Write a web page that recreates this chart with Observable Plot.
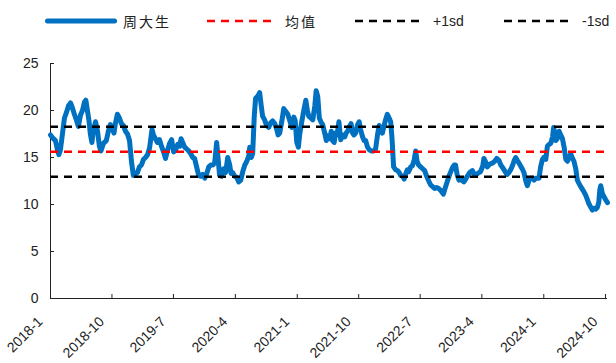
<!DOCTYPE html>
<html>
<head>
<meta charset="utf-8">
<script src="https://cdn.jsdelivr.net/npm/d3@7"></script>
<script src="https://cdn.jsdelivr.net/npm/@observablehq/plot@0.6"></script>
<style>
  body { margin: 0; background: #fff; font-family: "Liberation Sans", Arial, sans-serif; }
  #legend { position: relative; width: 616px; height: 40px; }
  #legend .item { position: absolute; top: 0; height: 42px; display: flex; align-items: center; }
  #legend .lab { font-size: 14px; color: #222; margin-left: 6px; white-space: nowrap; }
  #legend .cjk { font-family: "Noto Sans CJK SC", sans-serif; letter-spacing: 2px; font-size: 14px; }
  #chart svg { display: block; }
</style>
</head>
<body>
<div id="legend"></div>
<div id="chart"></div>
<script>
// ---- data ----
const seriesName = "周大生";
const dates = [
"2018-01-01","2018-01-14","2018-01-23","2018-02-01","2018-02-07","2018-02-14","2018-02-23","2018-03-04","2018-03-13","2018-03-22",
"2018-03-31","2018-04-08","2018-04-17","2018-04-26","2018-05-05","2018-05-14","2018-05-23","2018-06-01","2018-06-07","2018-06-14",
"2018-06-21","2018-06-27","2018-07-04","2018-07-11","2018-07-20","2018-07-29","2018-08-06","2018-08-13","2018-08-24","2018-09-06",
"2018-09-15","2018-09-24","2018-10-03","2018-10-10","2018-10-16","2018-10-25","2018-11-03","2018-11-12","2018-11-21","2018-11-30",
"2018-12-09","2018-12-18","2018-12-27","2019-01-04","2019-01-13","2019-01-22","2019-01-31","2019-02-09","2019-02-18","2019-02-27",
"2019-03-08","2019-03-17","2019-03-28","2019-04-03","2019-04-12","2019-04-21","2019-04-30","2019-05-09","2019-05-18","2019-05-27",
"2019-06-05","2019-06-14","2019-06-23","2019-07-02","2019-07-11","2019-07-20","2019-07-29","2019-08-04","2019-08-11","2019-08-20",
"2019-08-29","2019-09-07","2019-09-16","2019-09-25","2019-10-03","2019-10-12","2019-10-21","2019-10-30","2019-11-08","2019-11-17",
"2019-11-26","2019-12-05","2019-12-14","2019-12-23","2019-12-31","2020-01-09","2020-01-15","2020-01-22","2020-01-31","2020-02-09",
"2020-02-18","2020-02-27","2020-03-07","2020-03-13","2020-03-20","2020-03-29","2020-04-07","2020-04-16","2020-04-25","2020-05-04",
"2020-05-13","2020-05-22","2020-05-31","2020-06-04","2020-06-11","2020-06-17","2020-06-24","2020-06-30","2020-07-09","2020-07-18",
"2020-07-25","2020-07-31","2020-08-09","2020-08-18","2020-08-27","2020-09-05","2020-09-14","2020-09-23","2020-10-02","2020-10-08",
"2020-10-15","2020-10-24","2020-11-02","2020-11-11","2020-11-20","2020-11-29","2020-12-08","2020-12-17","2020-12-23","2020-12-30",
"2021-01-06","2021-01-12","2021-01-21","2021-01-30","2021-02-08","2021-02-15","2021-02-21","2021-03-02","2021-03-11","2021-03-20",
"2021-03-26","2021-04-02","2021-04-09","2021-04-16","2021-04-24","2021-05-03","2021-05-10","2021-05-16","2021-05-25","2021-06-01",
"2021-06-07","2021-06-14","2021-06-20","2021-06-27","2021-07-05","2021-07-13","2021-07-22","2021-07-31","2021-08-06","2021-08-13",
"2021-08-21","2021-08-28","2021-09-04","2021-09-10","2021-09-17","2021-09-26","2021-10-03","2021-10-09","2021-10-18","2021-10-25",
"2021-11-01","2021-11-09","2021-11-18","2021-11-27","2021-12-06","2021-12-15","2021-12-24","2021-12-31","2022-01-06","2022-01-14",
"2022-01-20","2022-01-28","2022-02-05","2022-02-13","2022-02-20","2022-02-26","2022-03-05","2022-03-14","2022-03-23","2022-03-30",
"2022-04-05","2022-04-14","2022-04-21","2022-04-27","2022-05-05","2022-05-11","2022-05-20","2022-05-27","2022-06-04","2022-06-11",
"2022-06-17","2022-06-24","2022-07-03","2022-07-12","2022-07-21","2022-07-30","2022-08-08","2022-08-16","2022-08-25","2022-09-03",
"2022-09-12","2022-09-21","2022-09-30","2022-10-12","2022-10-18","2022-10-30","2022-11-09","2022-11-21","2022-11-29","2022-12-05",
"2022-12-12","2022-12-20","2022-12-28","2023-01-06","2023-01-11","2023-01-19","2023-01-26","2023-02-06","2023-02-18","2023-02-26",
"2023-03-04","2023-03-13","2023-03-26","2023-04-05","2023-04-10","2023-04-18","2023-04-25","2023-05-06","2023-05-18","2023-05-28",
"2023-06-06","2023-06-16","2023-06-24","2023-06-30","2023-07-08","2023-07-16","2023-07-22","2023-07-30","2023-08-07","2023-08-16",
"2023-08-23","2023-08-29","2023-09-05","2023-09-13","2023-09-20","2023-09-27","2023-10-05","2023-10-13","2023-10-20","2023-10-28",
"2023-11-04","2023-11-13","2023-11-19","2023-11-26","2023-12-11","2023-12-18","2023-12-26","2024-01-01","2024-01-10","2024-01-17",
"2024-01-25","2024-02-01","2024-02-09","2024-02-14","2024-02-23","2024-03-01","2024-03-09","2024-03-16","2024-03-24","2024-04-01",
"2024-04-08","2024-04-15","2024-04-21","2024-04-30","2024-05-06","2024-05-14","2024-05-22","2024-05-29","2024-06-04","2024-06-13",
"2024-06-21","2024-06-26","2024-07-05","2024-07-13","2024-07-19","2024-07-28","2024-08-04","2024-08-12","2024-08-19","2024-08-26",
"2024-09-01","2024-09-06","2024-09-10","2024-09-17","2024-09-25","2024-10-02","2024-10-10"
];
const values = [
17.4,17.0,16.8,15.8,15.3,15.8,17.5,19.2,19.8,20.5,
20.8,20.3,19.6,19.0,18.3,19.5,20.0,20.9,21.1,20.0,
18.9,17.5,16.6,18.0,18.8,17.8,16.2,15.7,16.5,16.8,
17.8,18.5,18.0,17.6,18.6,19.6,19.2,18.6,18.4,17.8,
17.5,16.8,14.5,13.1,13.2,13.4,14.0,14.2,14.8,15.0,
15.3,16.0,18.0,17.4,17.0,16.6,16.9,16.2,15.6,14.9,
15.8,16.5,16.9,15.6,15.8,16.4,16.2,17.0,16.6,16.1,
15.9,15.7,15.4,15.0,14.9,14.0,13.1,13.0,13.2,12.8,
13.3,14.0,14.2,14.2,14.4,16.6,15.0,13.1,13.0,13.8,
13.4,15.0,14.2,13.3,13.4,13.0,12.9,12.4,12.6,13.5,
14.2,14.6,15.2,16.1,15.0,15.4,19.4,21.3,21.5,21.9,
20.5,19.4,19.0,18.4,18.2,18.7,18.9,18.6,18.0,17.4,
17.6,18.8,20.2,19.9,19.6,18.9,18.2,19.3,18.9,16.6,
16.1,17.5,18.8,20.0,21.1,20.0,19.4,19.2,19.0,20.5,
22.1,21.5,19.2,18.8,18.5,17.6,16.8,17.3,17.0,17.8,
16.8,16.6,17.6,17.4,18.8,16.9,17.4,17.2,17.6,17.8,
18.3,18.6,17.6,17.4,17.6,18.5,18.8,18.0,17.2,16.8,
16.8,16.1,15.8,15.7,15.7,15.9,17.5,18.4,18.0,17.6,
18.2,19.0,19.6,19.2,18.8,17.0,14.0,13.7,13.6,13.4,
13.1,13.0,12.7,13.2,13.7,13.5,14.0,14.1,14.7,15.7,
14.6,14.2,14.0,13.8,13.6,13.0,12.5,12.1,11.9,11.7,
11.8,11.7,11.5,11.1,11.6,12.5,13.2,13.9,14.2,14.2,
13.2,12.6,12.7,12.5,12.4,12.7,13.0,13.4,13.6,13.2,
13.1,13.3,13.5,14.1,14.9,14.5,14.0,14.3,14.4,14.6,
14.9,14.7,14.2,14.0,13.7,13.4,13.2,13.4,13.7,14.2,
14.7,15.0,14.7,14.4,14.1,13.8,13.4,12.5,12.0,12.6,
12.8,12.8,12.6,12.8,12.8,14.0,14.8,15.0,14.8,16.2,
16.4,16.5,17.2,18.2,16.8,17.0,17.8,17.4,17.0,16.0,
14.8,14.6,14.9,15.4,15.0,14.6,13.8,12.6,12.3,11.9,
11.6,11.4,11.0,10.5,10.1,9.7,9.4,9.6,9.5,9.7,
10.2,11.6,12.0,11.2,10.8,10.5,10.2
];
const statNames = ["均值", "+1sd", "-1sd"];
const statValues = [15.62, 18.27, 12.95];
const yTicks = [0, 5, 10, 15, 20, 25];
const xTickDates = ["2018-01-01","2018-10-01","2019-07-01","2020-04-01","2021-01-01","2021-10-01","2022-07-01","2023-04-01","2024-01-01","2024-10-01"];
const xTickLabels = ["2018-1","2018-10","2019-7","2020-4","2021-1","2021-10","2022-7","2023-4","2024-1","2024-10"];

// ---- styles ----
const blue = "#0070C0";
const statColors = ["#FF0000", "#000000", "#000000"];
const dash = "8,6";

const data = dates.map((d, i) => ({date: new Date(d), value: values[i]}));
const stats = statValues.map((v, i) => ({name: statNames[i], value: v, color: statColors[i]}));
const xTicks = xTickDates.map((d, i) => ({date: new Date(d), label: xTickLabels[i]}));
const x0 = new Date(dates[0]);
const x1 = new Date(dates[dates.length - 1]);

// ---- legend (HTML) ----
const legend = document.getElementById("legend");
const legendItems = [
  {name: seriesName, color: blue, width: 5, dashed: false, left: 45, cjk: true},
  {name: statNames[0], color: statColors[0], width: 2.5, dashed: true, left: 207, cjk: true},
  {name: statNames[1], color: statColors[1], width: 2.5, dashed: true, left: 355, cjk: false},
  {name: statNames[2], color: statColors[2], width: 2.5, dashed: true, left: 504, cjk: false}
];
for (const it of legendItems) {
  const div = document.createElement("div");
  div.className = "item";
  div.style.left = it.left + "px";
  const w = 72;
  div.innerHTML = `<svg width="${w}" height="10" style="display:block">
    <line x1="${it.dashed ? 0 : 2.5}" x2="${it.dashed ? w - 6 : w - 2.5}" y1="5" y2="5" stroke="${it.color}" stroke-width="${it.width}"
      stroke-linecap="${it.dashed ? "butt" : "round"}" ${it.dashed ? `stroke-dasharray="${dash}"` : ""}/></svg>
    <span class="lab ${it.cjk ? "cjk" : ""}">${it.name}</span>`;
  legend.appendChild(div);
}

// ---- chart ----
const chart = Plot.plot({
  width: 616,
  height: 323,
  marginLeft: 50,
  marginRight: 9,
  marginTop: 23,
  marginBottom: 65,
  style: {fontFamily: "Liberation Sans, Arial, sans-serif", fontSize: "14px", color: "#222", background: "#fff"},
  x: {type: "utc", domain: [x0, x1]},
  y: {domain: [0, 25]},
  marks: [
    Plot.axisY({ticks: yTicks, tickSize: -4, tickPadding: 16, fontSize: 14, label: null, stroke: "#222"}),
    Plot.axisX({ticks: xTicks.map(d => d.date), tickSize: -4, tickFormat: () => "", label: null, stroke: "#222"}),
    Plot.ruleX([x0], {stroke: "#222", strokeWidth: 1}),
    Plot.ruleY([0], {stroke: "#222", strokeWidth: 1}),
    Plot.text(xTicks, {x: "date", text: "label", frameAnchor: "bottom", rotate: -45, textAnchor: "end", dx: -7, dy: 24, fontSize: 14, fill: "#222"}),
    Plot.line(data, {x: "date", y: "value", stroke: blue, strokeWidth: 5, strokeLinejoin: "round", strokeLinecap: "round"}),
    Plot.ruleY(stats, {y: "value", stroke: "color", strokeWidth: 2.5, strokeDasharray: dash})
  ]
});
document.getElementById("chart").appendChild(chart);
</script>
</body>
</html>
